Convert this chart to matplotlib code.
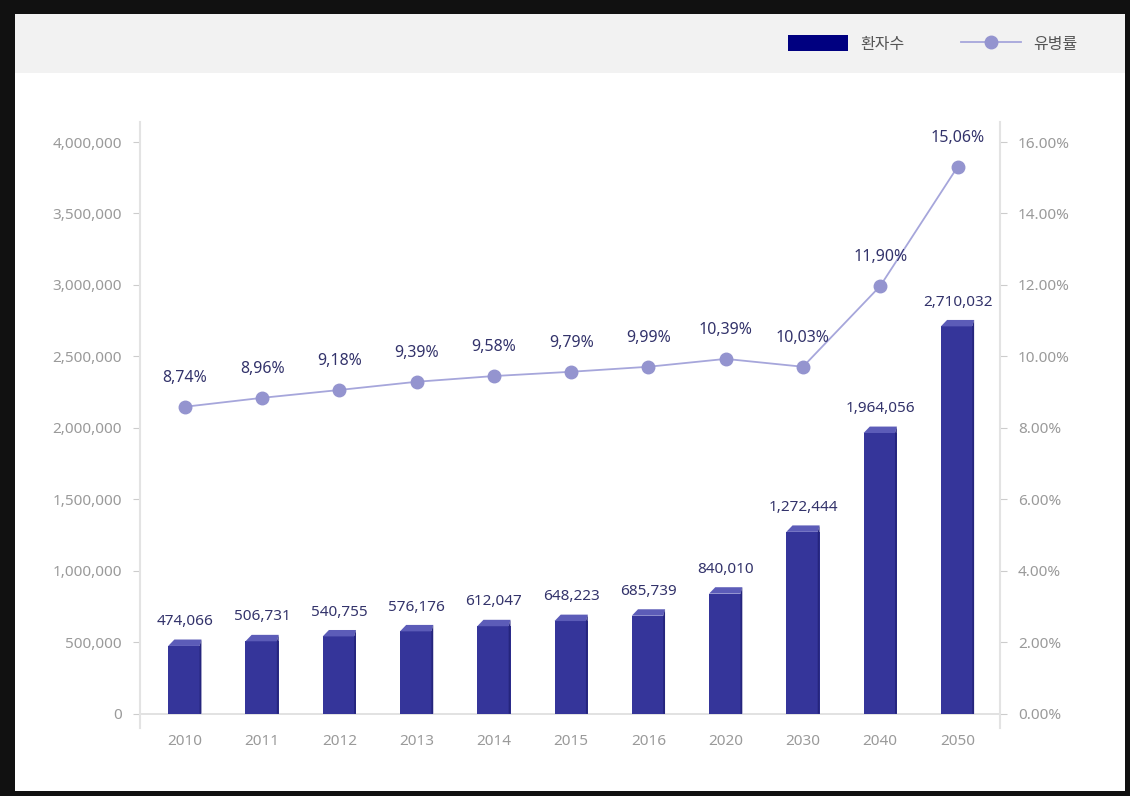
import matplotlib.pyplot as plt
from matplotlib.patches import Rectangle, Polygon
from matplotlib.lines import Line2D
import matplotlib.ticker as mticker

plt.rcParams['font.family'] = ['Noto Sans', 'Noto Sans CJK KR', 'DejaVu Sans']

# 데이터
years = ['2010', '2011', '2012', '2013', '2014', '2015', '2016', '2020', '2030', '2040', '2050']
patients = [474066, 506731, 540755, 576176, 612047, 648223, 685739, 840010, 1272444, 1964056, 2710032]
# 그림에서 읽은 마커 위치 (오른쪽 축 기준)
prevalence = [8.59, 8.84, 9.06, 9.29, 9.45, 9.57, 9.71, 9.93, 9.71, 11.97, 15.30]
# 데이터 레이블 (원본 표기)
prevalence_labels = ['8,74%', '8,96%', '9,18%', '9,39%', '9,58%', '9,79%', '9,99%',
                     '10,39%', '10,03%', '11,90%', '15,06%']

bar_front = '#35359a'
bar_side = '#25257d'
bar_top = '#5c5cb8'
line_col = '#a6a6db'
marker_col = '#9494cf'
label_col = '#33336b'
tick_col = '#9a9a9a'

fig = plt.figure(figsize=(11.3, 7.96), dpi=100)
fig.patch.set_facecolor('#111111')

# 흰색 배경 + 회색 헤더
fig.patches.append(Rectangle((15/1130, 5/796), 1110/1130, 777/796, transform=fig.transFigure,
                             facecolor='white', edgecolor='none', zorder=-2))
fig.patches.append(Rectangle((15/1130, 723/796), 1110/1130, 59/796, transform=fig.transFigure,
                             facecolor='#f2f2f2', edgecolor='none', zorder=-1))

ax = fig.add_axes([140/1130, 68/796, 860/1130, 606/796])
ax.set_facecolor('none')
ax2 = ax.twinx()
ax2.set_facecolor('none')

x = list(range(len(years)))
w = 0.43
dx = 0.08         # 3D 깊이 (x)
dy = 45000        # 3D 깊이 (y)

ax.bar(x, patients, width=w, color=bar_front, zorder=3)
for xi, v in zip(x, patients):
    l, r = xi - w / 2, xi + w / 2
    ax.add_patch(Polygon([(l, v), (l + dx, v + dy), (r, v + dy), (r - dx * 0.3, v)],
                         closed=True, facecolor=bar_top, edgecolor='none', zorder=4))
    ax.add_patch(Polygon([(r - dx * 0.3, 0), (r, 0), (r, v + dy), (r - dx * 0.3, v)],
                         closed=True, facecolor=bar_side, edgecolor='none', zorder=4))
    ax.text(xi, v + 170000, f'{v:,}', ha='center', va='center', fontsize=11,
            color=label_col, zorder=5)

ax.axhline(0, color='#dddddd', lw=1.2, zorder=2)

ax.set_xlim(-0.58, 10.55)
ax.set_ylim(-100000, 4140000)
ax.set_yticks(range(0, 4000001, 500000))
ax.yaxis.set_major_formatter(mticker.FuncFormatter(lambda v, p: f'{int(v):,}'))
ax.set_xticks(x)
ax.set_xticklabels(years)

ax2.plot(x, prevalence, color=line_col, lw=1.3, marker='o', markersize=9,
         markerfacecolor=marker_col, markeredgecolor=marker_col, zorder=6)
for xi, p, lab in zip(x, prevalence, prevalence_labels):
    ax2.text(xi, p + 0.81, lab, ha='center', va='center',
             fontsize=11.5, color=label_col, zorder=7)
ax2.set_ylim(-0.4, 16.56)
ax2.set_yticks(range(0, 17, 2))
ax2.yaxis.set_major_formatter(mticker.FuncFormatter(lambda v, p: f'{v:.2f}%'))

for a in (ax, ax2):
    for s in ('top', 'bottom'):
        a.spines[s].set_visible(False)
    a.spines['left'].set_color('#e3e3e3')
    a.spines['right'].set_color('#e3e3e3')
    a.spines['left'].set_linewidth(1.5)
    a.spines['right'].set_linewidth(1.5)
    a.tick_params(axis='y', colors='#cccccc', labelcolor=tick_col, labelsize=11,
                  length=5, pad=8)
ax.tick_params(axis='x', length=0, labelcolor=tick_col, labelsize=11, pad=4)
ax2.spines['left'].set_visible(False)
ax.spines['right'].set_visible(False)

# 범례 (헤더 영역)
leg_handles = [Rectangle((0, 0), 1, 1, facecolor='#000080', edgecolor='none'),
               Line2D([0], [0], color=line_col, lw=1.3, marker='o', markersize=9,
                      markerfacecolor=marker_col, markeredgecolor=marker_col)]
fig.legend(leg_handles, ['환자수', '유병률'], loc='center right',
           bbox_to_anchor=(1092/1130, 752/796), ncol=2, frameon=False,
           prop={'family': ['Noto Sans CJK KR', 'DejaVu Sans'], 'size': 11.5},
           labelcolor='#555555', handlelength=3.75, handleheight=1.1, columnspacing=3.5,
           handletextpad=0.8)

fig.savefig('out.png', dpi=100, facecolor=fig.get_facecolor())
